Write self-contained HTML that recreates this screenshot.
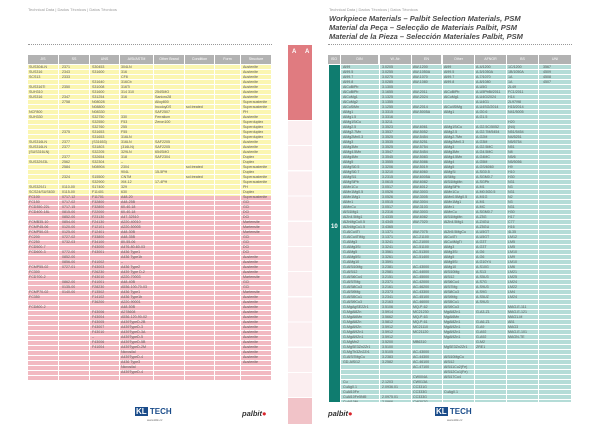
<!DOCTYPE html>
<html><head><meta charset="utf-8"><style>
*{margin:0;padding:0;box-sizing:border-box}
body{width:600px;height:424px;background:#fff;position:relative;overflow:hidden;font-family:"Liberation Sans",sans-serif}
.a{position:absolute}
.col{position:absolute;font-size:3.6px;line-height:5px;color:#555;white-space:pre;overflow:hidden}
.L{height:316px}
.R{height:337px}
.hd{position:absolute;top:55px;height:9px;background:#b2b2b2;color:#fff;font-size:3.6px;line-height:9px;text-align:center}
.vl{position:absolute;width:1px;background:#fff}
.dot{position:absolute;height:0;border-top:1px dotted #999}
.ttl{position:absolute;left:329px;font-size:7.5px;font-weight:bold;font-style:italic;color:#4a4a4a;line-height:8px;white-space:nowrap}
</style></head><body>
<div class="a" style="left:28px;top:7px;font-size:4px;color:#999">Technical Data | Dados Técnicos | Datos Técnicos</div>
<div class="a" style="left:329px;top:7px;font-size:4px;color:#999">Technical Data | Dados Técnicos | Datos Técnicos</div>
<div class="ttl" style="top:15px">Workpiece Materials – Palbit Selection Materials, PSM</div>
<div class="ttl" style="top:24px">Material da Peça – Selecção de Materiais Palbit, PSM</div>
<div class="ttl" style="top:33px">Material de la Pieza – Selección Materiales Palbit, PSM</div>
<div class="dot" style="left:28px;top:44px;width:244px"></div>
<div class="dot" style="left:328px;top:44px;width:244px"></div>

<!-- left table -->
<div class="a" style="left:28px;top:65px;width:243px;height:131px;background:repeating-linear-gradient(#fbf6b2 0 4px,#fff 4px 5px)"></div>
<div class="a" style="left:28px;top:196px;width:243px;height:185px;background:repeating-linear-gradient(#f2b9c1 0 4px,#fff 4px 5px)"></div>
<div class="hd" style="left:28px;width:30px">JIS</div>
<div class="hd" style="left:59px;width:30px">SS</div>
<div class="hd" style="left:90px;width:29px">UNS</div>
<div class="hd" style="left:120px;width:33px">AISI/ASTM</div>
<div class="hd" style="left:154px;width:30px">Other Brand</div>
<div class="hd" style="left:185px;width:29px">Condition</div>
<div class="hd" style="left:215px;width:25px">Form</div>
<div class="hd" style="left:241px;width:30px">Structure</div>
<div class="vl" style="left:58px;top:65px;height:316px"></div>
<div class="vl" style="left:89px;top:65px;height:316px"></div>
<div class="vl" style="left:119px;top:65px;height:316px"></div>
<div class="vl" style="left:153px;top:65px;height:316px"></div>
<div class="vl" style="left:184px;top:65px;height:316px"></div>
<div class="vl" style="left:214px;top:65px;height:316px"></div>
<div class="vl" style="left:240px;top:65px;height:316px"></div>
<div class="col L" style="left:29px;top:65px">SUS304LN
SUS316
SCS13

SUS316Ti
SUH310
SUS316


NCF800
SUH330




SUS316LN
SUS316LN
(SUS316LN)

SUS329J3L




SUS329J1
SCS24/SUS630
FC100
FC150
FCD350-22L
FCD400-18L

FCMB35-10
FCMP45-06
FCMP50-03
FC200
FC250
FCD500-7
FCD600-3


FCMP55-02
FC300
FCD700-2


FCMP70-02
FC350

FCD800-2</div>
<div class="col L" style="left:62px;top:65px">2371
2343
2333

2350

2347
2758





2375

2377
2377

2377
2562
2584

2324

0110-00
0115-00
0717-12
0717-02
0717-15
0815-00
0852-00
0854-00
0120-00
0125-00
0727-02
0732-03

0772-00
0852-00
0856-00
0727-01


0862-00
0135-00
0140-00</div>
<div class="col L" style="left:92px;top:65px">S30453
S31600

S31640
S31008
S31600
S31254
N08028
N08800
N08330
S32750
S32550
S32760
S31653
S31653
(S31653)
S31803
S32205
S32654
S32304
N08904

S15500
S32900
S17400
F11401
F11701
F32800
F32800
F22000
F23130
F24130
F12101
F12401
F33800
F34100
F43000
F43001

F41002
F43003
F26230
F43010
F41001
F28230
F13502
F14102
F36200

F43006
F43004
F43005
F43007
F43010
–
F43006
F41004</div>
<div class="col L" style="left:121px;top:65px">304LN
316
CF8
316Cb
316Ti
314 310
316



330
F53
255
F55
316LN
316LN
(316LN)
329LN
318
–
2304
904L
CN7M
XM-12
329
630
A48-20
A48-25B
60-40-18
60-40-18
A47-32510
A220-40010
A220-50005
A48-30B
A48-35B
80-55-06
A476-80-60-03
A436 Type1
A436 Type1b
–
A436 Type2
A439 Type D-2
A220-70003
A48-40B
A536-100-70-03
A436 Type1
A436 Type1b
A220-90001
A48-50B
A278608
A536-120-90-02
A439TypeD-2B
A439TypeD-3
A439TypeD-3A
A439TypeD-5
A439TypeD-5B
A439TypeD-2M
Nicrosilal
A439TypeD-4
A436 Type3
Nicrosilal
A439TypeD-4</div>
<div class="col L" style="left:155px;top:90px">254SMO
Sanicro28
Alloy800
IncoloyDS
SAF2507
Ferralium
Zeron100



SAF2205
SAF2205
654SMO
SAF2304


15-5PH

17-4PH</div>
<div class="col L" style="left:186px;top:105px">sol.treated











sol.treated

sol.treated</div>
<div class="col L" style="left:243px;top:65px">Austenite
Austenite
Austenite
Austenite
Austenite
Austenite
Austenite
Superaustenite
Superaustenite
PH
Austenite
Superduplex
Superduplex
Superduplex
Superduplex
Austenite
Austenite
Austenite
Duplex
Duplex
Superaustenite
Duplex
Superaustenite
Superaustenite
PH
Duplex
Superaustenite
GCI
GCI
DCI
DCI
Martensite
Martensite
Martensite
GCI
GCI
DCI
DCI
Austenite
Austenite
Austenite
Austenite
Martensite
GCI
GCI
Martensite
Austenite
Austenite
Austenite
Austenite
Austenite
Austenite
Austenite
Austenite
Austenite
Austenite
Austenite
Austenite
Austenite
Austenite</div>

<!-- center tabs -->
<div class="a" style="left:288px;top:45px;width:24px;height:75px;background:#e07b80"></div>
<div class="a" style="left:292px;top:49px;font-size:6px;color:#fff;font-weight:bold">A</div>
<div class="a" style="left:305px;top:49px;font-size:6px;color:#fff;font-weight:bold">A</div>
<div class="a" style="left:288px;top:121px;width:24px;height:277px;background:repeating-linear-gradient(#fbeef0 0 24px,#fff 24px 25.2px)"></div>
<div class="a" style="left:288px;top:398px;width:24px;height:26px;background:#f1c3c8"></div>

<!-- right table -->
<div class="a" style="left:341px;top:65px;width:230px;height:337px;background:repeating-linear-gradient(#b4dcd7 0 4px,#fff 4px 5px)"></div>
<div class="a" style="left:329px;top:65px;width:11px;height:337px;background:#0f7c6f"></div>
<div class="a" style="left:331px;top:224px;font-size:6px;font-weight:bold;color:#fff">10</div>
<div class="hd" style="left:328px;width:12px">ISO</div>
<div class="hd" style="left:341px;width:37px">DIN</div>
<div class="hd" style="left:380px;width:31px">W.-Nr.</div>
<div class="hd" style="left:412px;width:29px">EN</div>
<div class="hd" style="left:443px;width:31px">Other</div>
<div class="hd" style="left:475px;width:31px">AFNOR</div>
<div class="hd" style="left:507px;width:31px">BS</div>
<div class="hd" style="left:539px;width:32px">UNI</div>
<div class="vl" style="left:379px;top:65px;height:337px"></div>
<div class="vl" style="left:411px;top:65px;height:337px"></div>
<div class="vl" style="left:442px;top:65px;height:337px"></div>
<div class="vl" style="left:474px;top:65px;height:337px"></div>
<div class="vl" style="left:506px;top:65px;height:337px"></div>
<div class="vl" style="left:538px;top:65px;height:337px"></div>
<div class="col R" style="left:343px;top:65px">Al99
Al99.5
Al99.7
Al99.8
AlCuBiPb
AlCuBiPb
AlCuMg1
AlCuMg2
AlCuSiMn
AlMg1
AlMg1.5
AlMg1SiCu
AlMg2.5
AlMg2.7Mn
AlMg2Mn0.3
AlMg3
AlMg3Mn
AlMg4.5Mn
AlMg4Mn
AlMg5
AlMgSi0.5
AlMgSi0.7
AlMgSi1
AlMgSiPb
AlMn1Cu
AlMn1Mg0.5
AlMn1Mg1
AlMn1
AlMnCu
AlSi1Mg1
AlZn4.5Mg1
AlZnMgCu0.5
AlZnMgCu1.5
G-AlCu4Ti
G-AlCu4TiMg
G-AlMg3
G-AlMg3Si
G-AlMg5
G-AlMg5Si
G-AlMg10
G-AlSi10Mg
G-AlSi12
G-AlSi6Cu4
G-AlSi7Mg
G-AlSi8Cu3
G-AlSi9Mg
G-AlSi5Cu1
G-AlSi9Cu3
G-MgAgSE2Zr1
G-MgAl8Zn
G-MgAl6Mn
G-MgAl8Zn
G-MgAl9Zn
G-MgAl9Zn1
G-MgAl9Zn1
G-MgMn2
G-MgSE3Zn2Zr1
G-MgTh3Zn2Zr1
G-AlSi7MgCu
GD-AlSi12



Cu
CuAg0.1
CuAl10Fe
CuAl10Fe5Ni5
CuAl10Ni
CuAl10Ni5Fe4
CuAl11Ni6Fe5</div>
<div class="col R" style="left:382px;top:65px">3.0205
3.0255
3.0275
3.0285
3.1305
3.1655
3.1325
3.1355
3.1255
3.3315
3.3316
3.3211
3.3523
3.3537
3.3525
3.3535
3.3525
3.3547
3.3545
3.3555
3.3206
3.3210
3.2315
3.0615
3.0517
3.0526
3.0526
3.0515
3.0517
3.2316
3.4335
3.4345
3.4365
3.1371
3.1371
3.3241
3.3241
3.3561
3.3261
3.3591
3.2381
3.2581
3.2151
3.2371
3.2161
3.2373
3.2341
3.2163
3.5106
3.5914
3.5662
3.5812
3.5912
3.5912
3.5912
3.5200
3.5100
3.5105
3.2383
3.2582



2.1203
2.0936.01

2.0975.01
2.0966
2.0978</div>
<div class="col R" style="left:413px;top:65px">AW-1200
AW-1050A
AW-1070
AW-1080

AW-2011
AW-2024

AW-2014
AW-5005A


AW-6061
AW-5052
AW-5454
AW-5251
AW-5754
AW-5454
AW-5083
AW-5086
AW-5019
AW-6060
AW-6005A
AW-6082
AW-6012
AW-3003
AW-3005
AW-3004
AW-3103
AW-3003
AW-6082
AW-7020

AW-7075
AC-21100
AC-21000
AC-51100
AC-51300
AC-51400

AC-43000
AC-44000
AC-45000
AC-42000
AC-46200
AC-43300
AC-45100
AC-46000
MQ-P-62
MC21230
MQ-P-63
MQ-P-61
MC21110
MC21120

MB6310

AC-43000
AC-44300
AC-46100
AC-47100

CW004A
CW013A
CC331G
CC333G
CC333G
CW307G
CW308G</div>
<div class="col R" style="left:444px;top:65px">Al99
Al99.5
Al99.7
Al99.8

AlCuBiPb
AlCuMg1

AlCu4SiMg
AlMg1


AlMg1SiCu
AlMg2.5
AlMg2.7Mn
AlMg2Mn0.3
AlMg3
AlMg3Mn
AlMg4.5Mn
AlMg4
AlMg5
AlMgSi
AlSiMg
AlSi1MgMn
AlMgSiPb
AlMn1Cu
AlMn0.5Mg0.5
AlMn1Mg1
AlMn1
AlMnCu
AlSi1MgMn
AlZn4.5Mg1

AlZn5.5MgCu
AlCu4Ti
AlCu4MgTi
AlMg3
AlMg3Si
AlMg5
AlMg5Si
AlMg10
AlSi10Mg
AlSi12
AlSi6Cu4
AlSi7Mg
AlSi8Cu3
AlSi9Mg
AlSi5Cu1
AlSi9Cu3
MgAl8Zn1
MgAl6Mn
MgAl8Zn1
MgAl9Zn1
MgAl9Zn1
MgAl9Zn1

MgSE3Zn2Zr1

AlSi10MgCu
AlSi12
AlSi11Cu2(Fe)
AlSi12Cu1(Fe)
AlSi17Cu4


CuAg0.1


CuAl10Ni5Fe4
CuAl11Ni6Fe5</div>
<div class="col R" style="left:476px;top:65px">A-4/1200
A-5/1050A
A-7/1070
A-8/1080
A-U5G
A-U5PbBi/2011
A-U4G/2024
A-U4G1
A-U4SG/2014
A-G0.6
A-G1.5

A-G2.5C/5052
A-G2.7M/5454
A-G2M
A-G3M
A-G2.5MC
A-G4.5MC
A-G4MC
A-G5M
A-GS/6060
A-SG0.5
A-SGM0.7
A-SGPb
A-M1
A-M0.5G0.5
A-M1G
A-M1
A-MC
A-SGM0.7
A-Z5G
A-Z4GU
A-Z5GU
A-U5GT
A-U5GT
A-G3T
A-G3T
A-G6
A-G6
A-G10Y4
A-S10G
A-S13
A-S5U3
A-S7G
A-S9U3
A-S9G
A-S5UZ
A-S9U3

G-A3-Z1

G-A6-Z1
G-A9
G-A92
G-A92
G-M2
ZRE1</div>
<div class="col R" style="left:508px;top:65px">1C/1200
1B/1050A
1A
1A
2L49
FC1/2011
H14
2L97/98
H15/2014
N41/5005

H20
(N4)
N51/5454
N4/5251
N5/5754
N51
N8
N5/6
N5/5056
H9
H10
H30
N31
N3
N31
N2
N3
N31
H30
H17
C77
H16
4L35
LM12
LM5
LM5
LM10
LM9
LM10
LM6
LM21
LM25
LM24
LM22
LM4
LM24

MAG-E-111
MAG-E-121
MAG1-M
AB1
MAG3
MAG-E-101
MAGN-TE</div>
<div class="col R" style="left:543px;top:65px">3567
4509
4508
4507</div>

<!-- logos -->
<div class="a" style="left:135px;top:407px;width:38px;height:9px;font-size:8px;font-weight:bold;line-height:9px;color:#1a4c8a;white-space:nowrap"><span style="background:#1a4c8a;color:#fff;padding:0 1px">KL</span> TECH</div>
<div class="a" style="left:147px;top:418px;font-size:3px;color:#666">www.kltk.cz</div>
<div class="a" style="left:242px;top:409px;font-size:7.5px;font-weight:bold;font-style:italic;color:#333">palbit<span style="color:#d9242b">●</span></div>
<div class="a" style="left:435px;top:407px;width:38px;height:9px;font-size:8px;font-weight:bold;line-height:9px;color:#1a4c8a;white-space:nowrap"><span style="background:#1a4c8a;color:#fff;padding:0 1px">KL</span> TECH</div>
<div class="a" style="left:447px;top:418px;font-size:3px;color:#666">www.kltk.cz</div>
<div class="a" style="left:328px;top:409px;font-size:7.5px;font-weight:bold;font-style:italic;color:#333">palbit<span style="color:#d9242b">●</span></div>
</body></html>
